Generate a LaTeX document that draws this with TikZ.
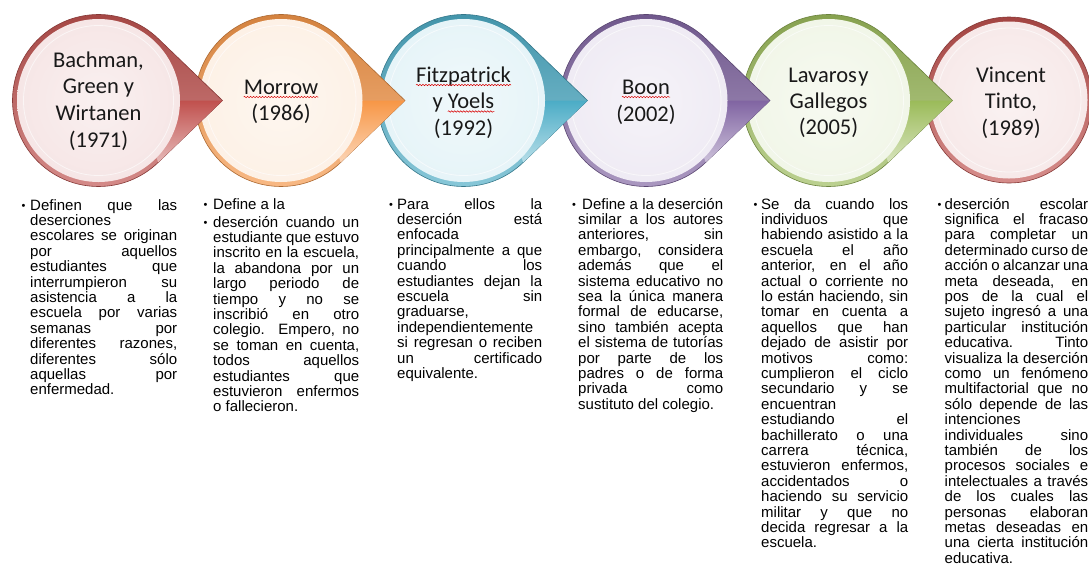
\documentclass[tikz,border=0pt]{standalone}
\usepackage{fontspec}
\setmainfont{Liberation Sans}
\newfontfamily\circfont{Carlito}
\usetikzlibrary{decorations.pathmorphing}
\hbadness=10000 \hfuzz=20pt \vbadness=10000
\definecolor{cA}{HTML}{C0504D}\definecolor{lA}{HTML}{F6E6E6}
\definecolor{cB}{HTML}{F79646}\definecolor{lB}{HTML}{FDF1E6}
\definecolor{cC}{HTML}{4BACC6}\definecolor{lC}{HTML}{E6F4F8}
\definecolor{cD}{HTML}{8064A2}\definecolor{lD}{HTML}{EFEBF4}
\definecolor{cE}{HTML}{9BBB59}\definecolor{lE}{HTML}{F1F6E8}
\definecolor{cF}{HTML}{C0504D}\definecolor{lF}{HTML}{F7E9E9}
\newlength\cw
\newcommand\J[1]{\hbox to \cw{#1}}
\newcommand\N[1]{\hbox{#1}}
\newcommand\colbox[2]{\vtop{\fontsize{15}{15.4}\selectfont\lineskiplimit=-20pt\setlength\cw{#1}#2}}
\begin{document}
\begin{tikzpicture}[x=1pt,y=1pt,
  coltext/.style={anchor=base west, inner sep=0pt, text=black},
  bul/.style={anchor=base, inner sep=0pt, font=\fontsize{11}{11}\selectfont, text=black},
  ctext/.style={anchor=base, inner sep=0pt, font=\circfont\fontsize{22.5}{27}\selectfont, text=black!90},
  wavy/.style={draw=red!85!black, line width=0.5pt, decorate, decoration={snake, amplitude=0.7pt, segment length=3pt}},
  ring/.style={draw=#1!70!black, line width=0.6pt, top color=#1!85!black, bottom color=#1!65!white},
  face/.style={inner color=#1!60!white, outer color=#1},
  glint/.style={draw=white, line width=0.8pt, opacity=0.6}
]
\useasboundingbox (0,0) rectangle (1089,-566);
\fill[white] (0,0) rectangle (1089,-566);

% last circle, no tip
\coordinate (c5) at (1009,-100);
\path[ring=cF] (c5) circle[radius=83pt];
\path[face=lF] (c5) circle[radius=78.5pt];
\draw[glint] (c5) circle[radius=72pt];

% circles with tips, drawn right to left
\foreach \i/\col/\lig in {4/cE/lE,3/cD/lD,2/cC/lC,1/cB/lB,0/cA/lA}{
  \pgfmathsetmacro\cx{98.5+182.5*\i}
  \coordinate (c\i) at (\cx,-100.5);
  \coordinate (tip\i) at (\cx+124,-100.5);
  \path[ring=\col] (c\i) ++(46.1:86pt) arc[start angle=46.1, end angle=313.9, radius=86pt] -- (tip\i) -- cycle;
  \path[top color=\col, bottom color=\col!40!white] (tip\i) -- ([shift={(-46.1:86pt)}]c\i) -- ([shift={(40pt,0pt)}]c\i) -- cycle;
  \path[face=\lig] (c\i) circle[radius=81.5pt];
  \draw[glint] (c\i) circle[radius=75pt];
}

% circle labels
\node[ctext] (n0a) at (98.5,-67) {Bachman,};
\node[ctext] (n0b) at (98.5,-93.7) {Green y};
\node[ctext] (n0c) at (98.5,-120.4) {Wirtanen};
\node[ctext] (n0d) at (98.5,-147) {(1971)};

\node[ctext] (n1a) at (281,-94) {Morrow};
\node[ctext] (n1b) at (281,-120.7) {(1986)};

\node[ctext] (n2a) at (463.5,-82) {Fitzpatrick};
\node[ctext] (n2b) at (463.5,-108.5) {y \phantom{Yoels}};
\node[ctext, anchor=base east] (n2c) at (n2b.base east) {Yoels};
\node[ctext] (n2d) at (463.5,-135) {(1992)};

\node[ctext] (n3a) at (646,-94) {Boon};
\node[ctext] (n3b) at (646,-121) {(2002)};

\node[ctext] (n4a) at (828.5,-82) {Lavaros\hspace{1.5pt}y};
\node[ctext] (n4b) at (828.5,-108.5) {Gallegos};
\node[ctext] (n4c) at (828.5,-134.5) {(2005)};

\node[ctext] (n5a) at (1011,-82) {Vincent};
\node[ctext] (n5b) at (1011,-108.5) {Tinto,};
\node[ctext] (n5c) at (1011,-135) {(1989)};

\draw[wavy] ([yshift=-3pt]n1a.base west) -- ([yshift=-3pt]n1a.base east);
\draw[wavy] ([yshift=-3pt]n2a.base west) -- ([yshift=-3pt]n2a.base east);
\draw[wavy] ([yshift=-3pt]n2c.base west) -- ([yshift=-3pt]n2c.base east);
\draw[wavy] ([yshift=-3pt]n3a.base west) -- ([yshift=-3pt]n3a.base east);

% column 1
\node[bul] (b0) at (23.5,-209) {•};
\node[coltext] (t0) at (30,-210) {\colbox{147pt}{%
\J{Definen que las}
\N{deserciones}
\J{escolares se originan}
\J{por aquellos}
\J{estudiantes que}
\J{interrumpieron su}
\J{asistencia a la}
\J{escuela por varias}
\J{semanas por}
\J{diferentes razones,}
\J{diferentes sólo}
\J{aquellas por}
\N{enfermedad.}}};

% column 2
\node[bul] (b1a) at (205.5,-208) {•};
\node[coltext] (t1a) at (213,-209) {\colbox{146pt}{\N{Define a la}}};
\node[bul] (b1b) at (205.5,-226) {•};
\node[coltext] (t1b) at (213,-227) {\colbox{146pt}{%
\J{deserción cuando un}
\J{estudiante que estuvo}
\J{inscrito en la escuela,}
\J{la abandona por un}
\J{largo periodo de}
\J{tiempo y no se}
\J{inscribió en otro}
\J{colegio. Empero, no}
\J{se toman en cuenta,}
\J{todos aquellos}
\J{estudiantes que}
\J{estuvieron enfermos}
\N{o fallecieron.}}};

% column 3
\node[bul] (b2) at (391,-208) {•};
\node[coltext] (t2) at (397,-209) {\colbox{145pt}{%
\J{Para ellos la}
\J{deserción está}
\N{enfocada}
\J{principalmente a que}
\J{cuando los}
\J{estudiantes dejan la}
\J{escuela sin}
\N{graduarse,}
\N{independientemente}
\J{si regresan o reciben}
\J{un certificado}
\N{equivalente.}}};

% column 4
\node[bul] (b3) at (574,-208) {•};
\node[coltext] (t3) at (578,-209) {\colbox{145pt}{%
\hbox to \cw{\hskip4pt Define a la deserción}
\J{similar a los autores}
\J{anteriores, sin}
\J{embargo, considera}
\J{además que el}
\J{sistema educativo no}
\J{sea la única manera}
\J{formal de educarse,}
\J{sino también acepta}
\J{el sistema de tutorías}
\J{por parte de los}
\J{padres o de forma}
\J{privada como}
\N{sustituto del colegio.}}};

% column 5
\node[bul] (b4) at (755.5,-208) {•};
\node[coltext] (t4) at (761,-209) {\colbox{147pt}{%
\J{Se da cuando los}
\J{individuos que}
\J{habiendo asistido a la}
\J{escuela el año}
\J{anterior, en el año}
\J{actual o corriente no}
\J{lo están haciendo, sin}
\J{tomar en cuenta a}
\J{aquellos que han}
\J{dejado de asistir por}
\J{motivos como:}
\J{cumplieron el ciclo}
\J{secundario y se}
\N{encuentran}
\J{estudiando el}
\J{bachillerato o una}
\J{carrera técnica,}
\J{estuvieron enfermos,}
\J{accidentados o}
\J{haciendo su servicio}
\J{militar y que no}
\J{decida regresar a la}
\N{escuela.}}};

% column 6
\node[bul] (b5) at (939.5,-208) {•};
\node[coltext] (t5) at (944.5,-209) {\colbox{143.5pt}{%
\J{deserción escolar}
\J{significa el fracaso}
\J{para completar un}
\J{determinado curso de}
\J{acción o alcanzar una}
\J{meta deseada, en}
\J{pos de la cual el}
\J{sujeto ingresó a una}
\J{particular institución}
\J{educativa. Tinto}
\J{visualiza la deserción}
\J{como un fenómeno}
\J{multifactorial que no}
\J{sólo depende de las}
\N{intenciones}
\J{individuales sino}
\J{también de los}
\J{procesos sociales e}
\J{intelectuales a través}
\J{de los cuales las}
\J{personas elaboran}
\J{metas deseadas en}
\J{una cierta institución}
\N{educativa.}}};
\end{tikzpicture}
\end{document}
